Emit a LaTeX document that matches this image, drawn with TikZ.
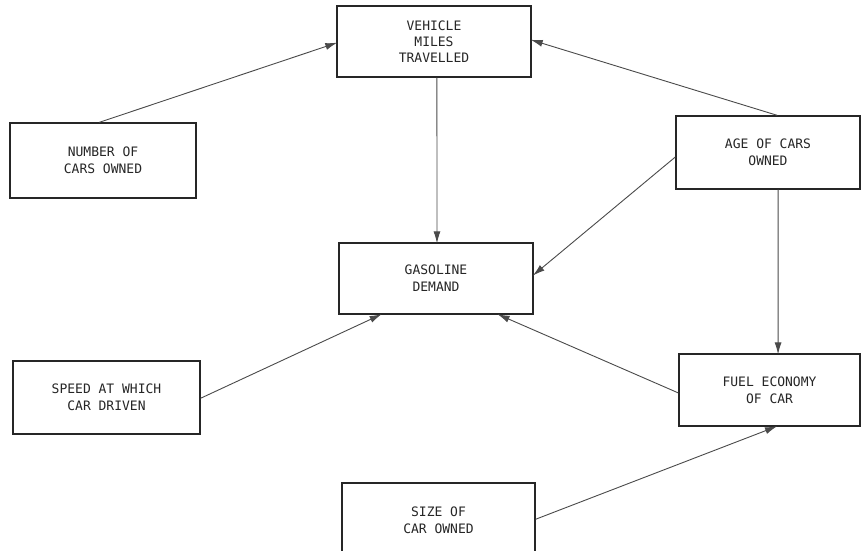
\documentclass[tikz,border=0pt]{standalone}
\usepackage{fontspec}
\setmonofont{DejaVu Sans Mono}
\usetikzlibrary{arrows.meta,calc}
\definecolor{ink}{HTML}{262626}
\definecolor{lineink}{HTML}{4A4A4A}
\tikzset{
  factor/.style={draw=ink, line width=1.3pt, rectangle, inner sep=0pt,
    text=ink, font=\fontsize{13}{17}\selectfont\ttfamily, align=center},
  link/.style={draw=lineink, line width=0.9pt, -{Latex[length=12pt,width=7pt]}, shorten >=-1pt}
}
\begin{document}
\begin{tikzpicture}[x=1pt,y=-1pt]
\useasboundingbox (0,0) rectangle (863,550);
\fill[white] (0,0) rectangle (863,550);
\node[factor, minimum width=194pt, minimum height=71pt, font=\fontsize{13}{16}\selectfont\ttfamily] (vmt) at (434,41.5) {VEHICLE\\MILES\\TRAVELLED};
\node[factor, minimum width=186pt, minimum height=75pt] (num) at (103,160.5) {NUMBER OF\\CARS OWNED};
\node[factor, minimum width=184pt, minimum height=73pt] (age) at (768,152.5) {AGE OF CARS\\OWNED};
\node[factor, minimum width=194pt, minimum height=71pt] (gas) at (436,278.5) {GASOLINE\\DEMAND};
\node[factor, minimum width=187pt, minimum height=73pt] (spd) at (106.5,397.5) {SPEED AT WHICH\\CAR DRIVEN};
\node[factor, minimum width=181pt, minimum height=72pt] (fuel) at (769.5,390) {FUEL ECONOMY\\OF CAR};
\node[factor, minimum width=193pt, minimum height=74pt] (size) at (438.5,520) {SIZE OF\\CAR OWNED};
\draw[link] ($(num.north west)!0.48!(num.north east)$) -- ($(vmt.north west)!0.52!(vmt.south west)$);
\draw[link] ($(age.north west)!0.55!(age.north east)$) -- ($(vmt.north east)!0.48!(vmt.south east)$);
\draw[link] ($(vmt.south west)!0.515!(vmt.south east)$) -- ($(gas.north west)!0.505!(gas.north east)$);
\draw[link] ($(age.north west)!0.56!(age.south west)$) -- ($(gas.north east)!0.45!(gas.south east)$);
\draw[link] ($(age.south west)!0.555!(age.south east)$) -- ($(fuel.north west)!0.547!(fuel.north east)$);
\draw[link] ($(fuel.north west)!0.54!(fuel.south west)$) -- ($(gas.south west)!0.82!(gas.south east)$);
\draw[link] ($(spd.north east)!0.51!(spd.south east)$) -- ($(gas.south west)!0.217!(gas.south east)$);
\draw[link] ($(size.north east)!0.49!(size.south east)$) -- ($(fuel.south west)!0.536!(fuel.south east)$);
\end{tikzpicture}
\end{document}
